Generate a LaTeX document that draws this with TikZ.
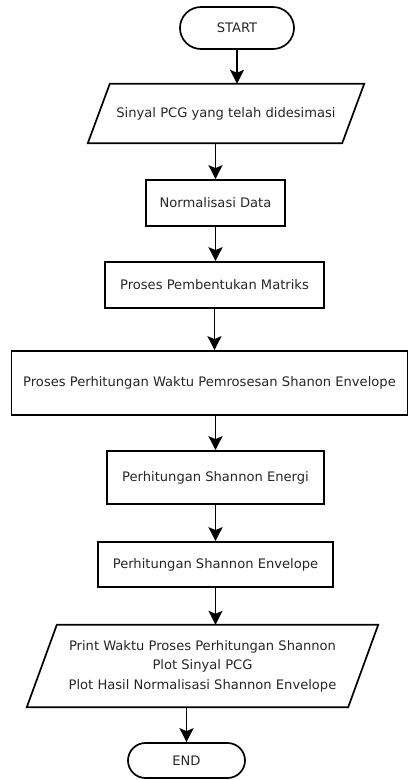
\documentclass[tikz,border=0pt]{standalone}
\usepackage{fontspec}
\setmainfont{DejaVu Sans}
\usetikzlibrary{arrows.meta,calc}
\begin{document}
\begin{tikzpicture}[x=1pt,y=-1pt,
  lw/.style={line width=1.7pt},
  txt/.style={inner sep=0pt, font=\fontsize{13.1}{19.5}\selectfont, text=black!85, align=center},
  box/.style={txt, draw, lw},
  term/.style={box, rounded corners=#1},
  io/.style={txt},
  arr/.style={lw, -{Stealth[length=14pt,width=14pt,inset=3pt]}}]
\useasboundingbox (0,0) rectangle (409,780);
\node[term=21pt, minimum width=114pt, minimum height=42pt] (start) at (237,28) {START};
\node[io, minimum width=254pt, minimum height=59pt] (in1) at (226,113.5) {Sinyal PCG yang telah didesimasi};
\draw[lw] ($(in1.north west)+(11,0)$) -- ($(in1.north east)+(11,0)$) -- ($(in1.south east)+(-11,0)$) -- ($(in1.south west)+(-11,0)$) -- cycle;
\node[box, minimum width=139pt, minimum height=46pt] (norm) at (215.5,203) {Normalisasi Data};
\node[box, minimum width=219pt, minimum height=46pt] (mat) at (214.5,285) {Proses Pembentukan Matriks};
\node[box, minimum width=396pt, minimum height=64pt] (waktu) at (209.5,383) {Proses Perhitungan Waktu Pemrosesan Shanon Envelope};
\node[box, minimum width=217pt, minimum height=53pt] (energi) at (215.5,477.5) {Perhitungan Shannon Energi};
\node[box, minimum width=235pt, minimum height=45pt] (env) at (215.5,564.5) {Perhitungan Shannon Envelope};
\node[io, minimum width=321pt, minimum height=82pt] (out) at (202.5,666) {Print Waktu Proses Perhitungan Shannon\\Plot Sinyal PCG\\Plot Hasil Normalisasi Shannon Envelope};
\draw[lw] ($(out.north west)+(15,0)$) -- ($(out.north east)+(15,0)$) -- ($(out.south east)+(-15,0)$) -- ($(out.south west)+(-15,0)$) -- cycle;
\node[term=17.5pt, minimum width=117pt, minimum height=35pt] (end) at (186.5,760.5) {END};
\draw[arr] (start.south) -- (start.south |- in1.north);
\draw[arr] (norm.north |- in1.south) -- (norm.north);
\draw[arr] (norm.south) -- (norm.south |- mat.north);
\draw[arr] (mat.south) -- (mat.south |- waktu.north);
\draw[arr] (energi.north |- waktu.south) -- (energi.north);
\draw[arr] (energi.south) -- (energi.south |- env.north);
\draw[arr] (env.south) -- (env.south |- out.north);
\draw[arr] (end.north |- out.south) -- (end.north);
\end{tikzpicture}
\end{document}
